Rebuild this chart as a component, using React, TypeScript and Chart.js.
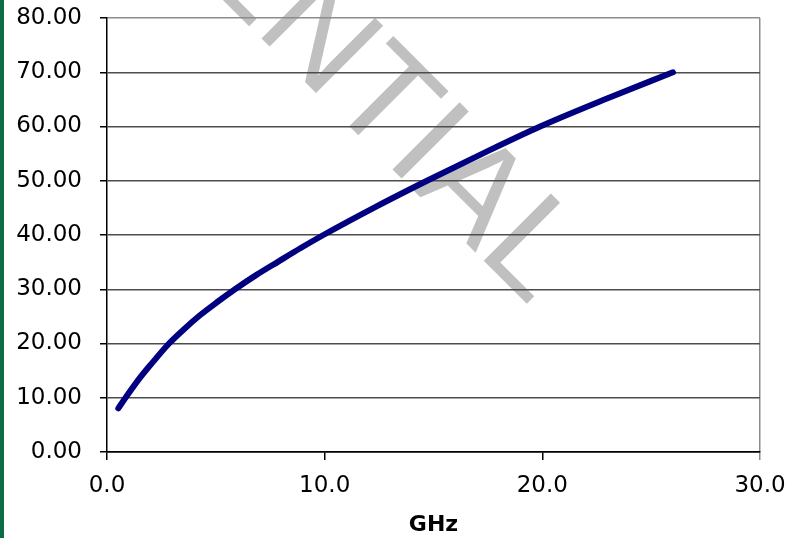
import { useEffect, useRef } from "react";
import { Chart, registerables } from "chart.js";

Chart.register(...registerables);

const freqGHz = [0.52, 0.85, 1.44, 2.05, 2.85, 3.5, 4.27, 5.05, 5.88, 6.85, 7.87, 8.9, 9.94, 12.3, 14.7, 17.3, 19.9, 23, 26];
const values = [8.05, 10, 13.3, 16.3, 20, 22.5, 25.2, 27.6, 30, 32.6, 35.1, 37.6, 40, 45.1, 50, 55.1, 60, 65.2, 70];
const xTickValues = [0, 10, 20, 30];
const yTickValues = [0, 10, 20, 30, 40, 50, 60, 70, 80];
const xTitle = "GHz";
const watermarkText = "CONFIDENTIAL";

const FONT = "'DejaVu Sans', Verdana, sans-serif";

const backgroundPlugin = {
  id: "decor",
  beforeDraw(chart: any) {
    const ctx = chart.ctx;
    ctx.save();
    ctx.fillStyle = "#ffffff";
    ctx.fillRect(0, 0, chart.width, chart.height);
    ctx.fillStyle = "#0b6b44";
    ctx.fillRect(0, 0, 4, chart.height);
    ctx.translate(530, 307);
    ctx.rotate(Math.PI / 4);
    ctx.fillStyle = "#c0c0c0";
    ctx.font = "138px 'Liberation Sans', Arial, sans-serif";
    ctx.textAlign = "right";
    ctx.textBaseline = "alphabetic";
    ctx.fillText(watermarkText, 0, 0);
    ctx.restore();
  },
};

export default function App() {
  const ref = useRef<HTMLCanvasElement>(null);
  useEffect(() => {
    document.body.style.margin = "0";
    const chart = new Chart(ref.current!, {
      type: "scatter",
      data: {
        datasets: [
          {
            data: freqGHz.map((x, i) => ({ x, y: values[i] })),
            showLine: true,
            borderColor: "#000080",
            backgroundColor: "#000080",
            borderWidth: 6,
            borderCapStyle: "round",
            borderJoinStyle: "round",
            pointRadius: 0,
            cubicInterpolationMode: "monotone",
            fill: false,
          } as any,
        ],
      },
      options: {
        responsive: false,
        animation: false,
        layout: { padding: { left: 0, right: 36, top: 18, bottom: 0 } },
        plugins: { legend: { display: false }, tooltip: { enabled: false } },
        scales: {
          x: {
            type: "linear",
            min: 0,
            max: 30,
            afterBuildTicks: (s: any) => {
              s.ticks = xTickValues.map((v) => ({ value: v }));
            },
            ticks: {
              callback: (v: any) => Number(v).toFixed(1),
              font: { family: FONT, size: 23 },
              color: "#000",
              padding: 12,
              maxRotation: 0,
            },
            grid: {
              color: (c: any) => (c.tick && c.tick.value === 30 ? "#8c8c8c" : "rgba(0,0,0,0)"),
              tickColor: (c: any) => (c.tick && c.tick.value === 30 ? "#8c8c8c" : "#000"),
              tickLength: 8,
              lineWidth: 1.5,
            },
            border: { color: "#000", width: 1.5 },
            title: {
              display: true,
              text: xTitle,
              font: { family: FONT, size: 22, weight: "bold" },
              color: "#000",
              padding: { top: 0, bottom: 0 },
            },
            afterFit: (s: any) => {
              s.height = 86;
              s.paddingLeft = 0;
              s.paddingRight = 0;
            },
          } as any,
          y: {
            type: "linear",
            min: 0,
            max: 80,
            afterBuildTicks: (s: any) => {
              s.ticks = yTickValues.map((v) => ({ value: v }));
            },
            ticks: {
              callback: (v: any) => Number(v).toFixed(2),
              font: { family: FONT, size: 23 },
              color: "#000",
              padding: 18,
            },
            grid: {
              color: (c: any) =>
                c.tick && c.tick.value === 80 ? "#8c8c8c" : c.tick && c.tick.value === 0 ? "#000" : "#4d4d4d",
              tickColor: "#000",
              tickLength: 7,
              lineWidth: 1.5,
            },
            border: { color: "#000", width: 1.5 },
            afterFit: (s: any) => {
              s.width = 107;
              s.paddingTop = 0;
              s.paddingBottom = 0;
            },
          } as any,
        },
      },
      plugins: [backgroundPlugin],
    });
    return () => chart.destroy();
  }, []);
  return <canvas ref={ref} width={796} height={538} style={{ display: "block" }} />;
}
